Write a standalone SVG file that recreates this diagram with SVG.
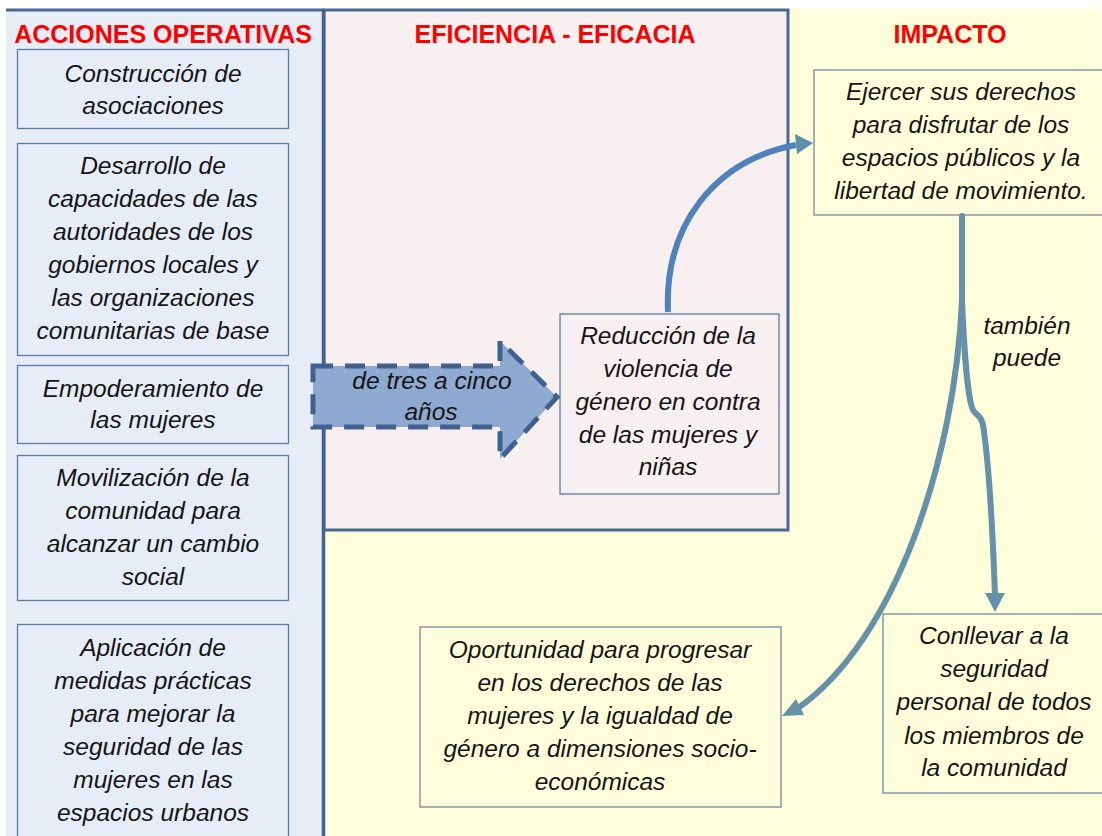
<svg xmlns="http://www.w3.org/2000/svg" width="1102" height="836" viewBox="0 0 1102 836">
<style>
.t{font-family:"Liberation Sans",Arial,sans-serif;font-style:italic;font-size:24.5px;fill:#141414;text-anchor:middle}
.h{font-family:"Liberation Sans",Arial,sans-serif;font-weight:bold;font-size:25px;fill:#ff0000;text-anchor:middle}
.lb{fill:#e7edf6;stroke:#5b7aa8;stroke-width:1.3}
.pb{fill:#f8f0f0;stroke:#5b7aa8;stroke-width:1.3}
.yb{fill:#ffffdc;stroke:#7f9aa6;stroke-width:1.5}
.teal{fill:none;stroke:#6591a9;stroke-width:6;stroke-linecap:round}
</style>
<rect width="1102" height="836" fill="#ffffff"/>
<g id="panels">
<rect x="6" y="10" width="318" height="826" fill="#e7edf6"/>
<rect x="788" y="9" width="313" height="827" fill="#ffffdc"/>
<rect x="324" y="530" width="778" height="306" fill="#ffffdc"/>
<rect x="324" y="10" width="464" height="520" fill="#f8f0f0" stroke="#4a6890" stroke-width="3"/>
<line x1="6" y1="10" x2="324" y2="10" stroke="#4a6890" stroke-width="3"/>
<line x1="323.5" y1="10" x2="323.5" y2="836" stroke="#41628f" stroke-width="3.5"/>
</g>
<g id="headers">
<text class="h" x="163" y="43">ACCIONES OPERATIVAS</text>
<text class="h" x="555" y="43">EFICIENCIA - EFICACIA</text>
<text class="h" x="950" y="43">IMPACTO</text>
</g>
<g id="n1"><rect class="lb" x="17.5" y="49.5" width="271" height="79"/>
<text class="t" x="153" y="82">Construcción de</text><text class="t" x="153" y="114">asociaciones</text></g>
<g id="n2"><rect class="lb" x="17.5" y="143.5" width="271" height="212"/>
<text class="t" x="153" y="174">Desarrollo de</text><text class="t" x="153" y="207">capacidades de las</text><text class="t" x="153" y="240">autoridades de los</text><text class="t" x="153" y="273">gobiernos locales y</text><text class="t" x="153" y="306">las organizaciones</text><text class="t" x="153" y="339">comunitarias de base</text></g>
<g id="n3"><rect class="lb" x="17.5" y="365.5" width="271" height="78"/>
<text class="t" x="153" y="397">Empoderamiento de</text><text class="t" x="153" y="428">las mujeres</text></g>
<g id="n4"><rect class="lb" x="17.5" y="455.5" width="271" height="145"/>
<text class="t" x="153" y="486">Movilización de la</text><text class="t" x="153" y="519">comunidad para</text><text class="t" x="153" y="552">alcanzar un cambio</text><text class="t" x="153" y="585">social</text></g>
<g id="n5"><rect class="lb" x="17.5" y="624.5" width="271" height="230"/>
<text class="t" x="153" y="656">Aplicación de</text><text class="t" x="153" y="689">medidas prácticas</text><text class="t" x="153" y="722">para mejorar la</text><text class="t" x="153" y="755">seguridad de las</text><text class="t" x="153" y="788">mujeres en las</text><text class="t" x="153" y="821">espacios urbanos</text></g>
<g id="n6"><rect class="pb" x="560" y="314" width="219" height="180"/>
<text class="t" x="668" y="344">Reducción de la</text><text class="t" x="668" y="377">violencia de</text><text class="t" x="668" y="410">género en contra</text><text class="t" x="668" y="443">de las mujeres y</text><text class="t" x="668" y="475">niñas</text></g>
<g id="n7"><rect class="yb" x="814" y="70" width="290" height="145"/>
<text class="t" x="961" y="100">Ejercer sus derechos</text><text class="t" x="961" y="133">para disfrutar de los</text><text class="t" x="961" y="166">espacios públicos y la</text><text class="t" x="961" y="199">libertad de movimiento.</text></g>
<g id="n8"><rect class="yb" x="420" y="627" width="361" height="180"/>
<text class="t" x="600" y="658">Oportunidad para progresar</text><text class="t" x="600" y="691">en los derechos de las</text><text class="t" x="600" y="724">mujeres y la igualdad de</text><text class="t" x="600" y="757">género a dimensiones socio-</text><text class="t" x="600" y="790">económicas</text></g>
<g id="n9"><rect class="yb" x="883" y="614" width="222" height="179"/>
<text class="t" x="994" y="644">Conllevar a la</text><text class="t" x="994" y="677">seguridad</text><text class="t" x="994" y="710">personal de todos</text><text class="t" x="994" y="744">los miembros de</text><text class="t" x="994" y="776">la comunidad</text></g>
<g id="connectors">
<polygon points="313,366 500,366 500,341 557,397 500,459 500,427 313,427" fill="#8eaad0" stroke="#3f6090" stroke-width="5" stroke-dasharray="20,12" stroke-linejoin="miter"/>
<text class="t" x="432" y="389">de tres a cinco</text>
<text class="t" x="431" y="420">años</text>
<path d="M668,312 C664,225 715,160 796,145" fill="none" stroke="#4f81bd" stroke-width="6"/>
<polygon points="813,143 795,134 797,154" fill="#5f8fa8"/>
<path class="teal" d="M962,216 L962,300 C955,460 895,640 798,708"/>
<polygon points="782,716 796,699 804,715" fill="#6591a9"/>
<path class="teal" d="M962,300 C964,350 968,400 973,410 C976,416 981,414 983,425 C990,470 993,540 995,595"/>
<polygon points="985,593 1005,593 995,612" fill="#6591a9"/>
<text class="t" x="1027" y="334">también</text>
<text class="t" x="1027" y="366">puede</text>
</g>
</svg>
